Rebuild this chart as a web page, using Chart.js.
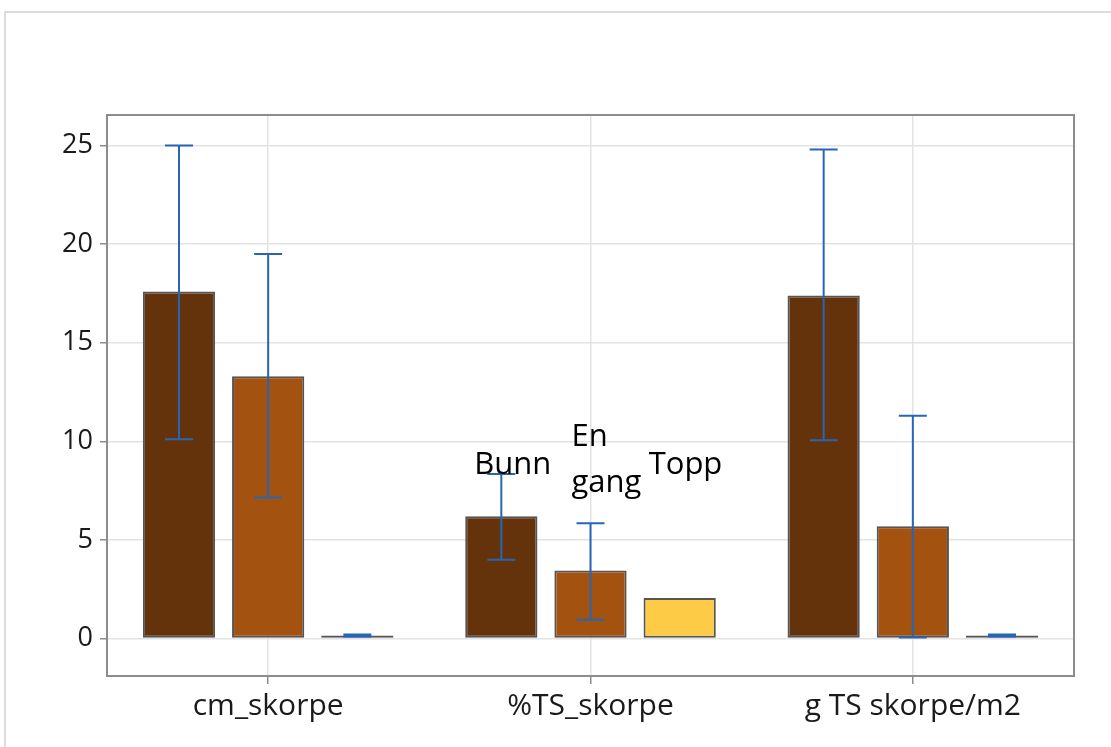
<!DOCTYPE html>
<html>
<head>
<meta charset="utf-8">
<script src="https://cdn.jsdelivr.net/npm/chart.js@4.4.1/dist/chart.umd.min.js"></script>
<style>
  html, body { margin: 0; padding: 0; background: #fff; }
  #wrap { position: relative; width: 1111px; height: 747px; }
  #frame { position: absolute; left: 4px; top: 11px; right: -10px; bottom: -10px;
           border-top: 2px solid #dcdcdc; border-left: 2px solid #dcdcdc; }
  canvas { position: absolute; left: 0; top: 0; }
</style>
</head>
<body>
<div id="wrap">
  <div id="frame"></div>
  <canvas id="chart" width="1111" height="747"></canvas>
</div>
<script>
const categories = ['cm_skorpe', '%TS_skorpe', 'g TS skorpe/m2'];
const seriesNames = ['Bunn', 'En gang', 'Topp'];

const bunn = [17.6, 6.2, 17.4];
const enGang = [13.3, 3.45, 5.7];
const topp = [0.15, 2.05, 0.15];

// error bar ranges [low, high], null = no error bar
const bunnErr = [[10.1, 25.0], [4.0, 8.35], [10.05, 24.8]];
const enGangErr = [[7.15, 19.5], [0.95, 5.85], [0.05, 11.3]];
const toppErr = [[0.1, 0.2], null, [0.1, 0.2]];

const yTicks = [0, 5, 10, 15, 20, 25];

const colors = ['#65330b', '#a4520f', '#fdcb45'];
const errColor = '#2765b5';

const errorBars = {
  id: 'errorBars',
  afterDatasetsDraw(chart) {
    const ctx = chart.ctx;
    const y = chart.scales.y;
    const errs = [bunnErr, enGangErr, toppErr];
    ctx.save();
    ctx.strokeStyle = errColor;
    ctx.lineWidth = 2;
    errs.forEach((set, di) => {
      const meta = chart.getDatasetMeta(di);
      set.forEach((e, i) => {
        if (!e) return;
        const x = meta.data[i].x;
        const y1 = y.getPixelForValue(e[0]);
        const y2 = y.getPixelForValue(e[1]);
        const cap = 14;
        ctx.beginPath();
        ctx.moveTo(x, y1); ctx.lineTo(x, y2);
        ctx.moveTo(x - cap, y1); ctx.lineTo(x + cap, y1);
        ctx.moveTo(x - cap, y2); ctx.lineTo(x + cap, y2);
        ctx.stroke();
      });
    });
    ctx.restore();
  }
};

// plot frame and the series names over the middle group
const frameAndNames = {
  id: 'frameAndNames',
  afterDraw(chart) {
    const ctx = chart.ctx;
    const a = chart.chartArea;
    const y = chart.scales.y;
    ctx.save();
    ctx.strokeStyle = '#8c8c8c';
    ctx.lineWidth = 2;
    ctx.strokeRect(a.left, a.top, a.right - a.left, a.bottom - a.top);

    ctx.fillStyle = '#000';
    ctx.font = '31px "Open Sans"';
    ctx.textAlign = 'left';
    ctx.textBaseline = 'alphabetic';
    // [text lines, left shift from bar centre, baseline values]
    const names = [
      [['Bunn'], -27, [8.33]],
      [['En', 'gang'], -19, [9.75, 7.45]],
      [['Topp'], -31, [8.33]]
    ];
    names.forEach(([lines, dx, levels], di) => {
      const x = chart.getDatasetMeta(di).data[1].x + dx;
      lines.forEach((t, k) => ctx.fillText(t, x, y.getPixelForValue(levels[k])));
    });
    ctx.restore();
  }
};

new Chart(document.getElementById('chart').getContext('2d'), {
  type: 'bar',
  data: {
    labels: categories,
    datasets: [bunn, enGang, topp].map((d, i) => ({
      label: seriesNames[i],
      data: d,
      backgroundColor: colors[i],
      borderColor: '#555555',
      borderWidth: 2,
      borderSkipped: false,
      categoryPercentage: 0.83,
      barPercentage: 0.81
    }))
  },
  options: {
    responsive: false,
    animation: false,
    layout: { padding: { top: 115, right: 37, left: 0, bottom: 0 } },
    plugins: { legend: { display: false }, tooltip: { enabled: false } },
    scales: {
      x: {
        grid: { offset: false, color: '#e3e3e3', lineWidth: 1.5, tickColor: '#8c8c8c', tickLength: 8, drawTicks: true },
        border: { color: '#8c8c8c', width: 2 },
        ticks: { color: '#1a1a1a', font: { family: 'Open Sans', size: 30, weight: '500' }, padding: 4 },
        afterFit(s) { s.height = 71; }
      },
      y: {
        min: -1.9,
        max: 26.55,
        afterBuildTicks(s) { s.ticks = yTicks.map(v => ({ value: v })); },
        grid: { color: '#e3e3e3', lineWidth: 1.5, tickColor: '#8c8c8c', tickLength: 7 },
        border: { color: '#8c8c8c', width: 2 },
        ticks: { color: '#1a1a1a', font: { family: 'Open Sans', size: 27, weight: '500' }, padding: 7 },
        afterFit(s) { s.width = 107; }
      }
    }
  },
  plugins: [errorBars, frameAndNames]
});
</script>
</body>
</html>
